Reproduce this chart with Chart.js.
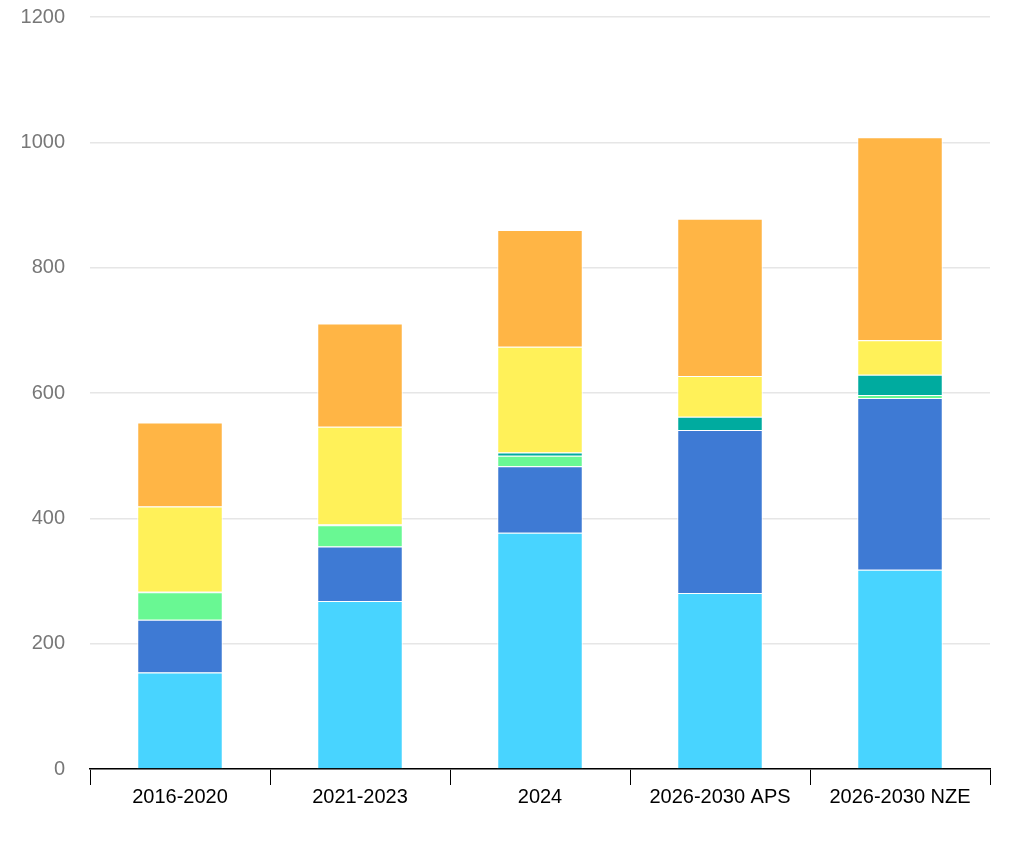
<!DOCTYPE html>
<html>
<head>
<meta charset="utf-8">
<script src="https://cdn.jsdelivr.net/npm/chart.js@4"></script>
<style>
  html, body { margin: 0; padding: 0; background: #fff; }
  #wrap { width: 1024px; height: 853px; }
</style>
</head>
<body>
<div id="wrap"><canvas id="mychart"></canvas></div>
<script>
// data

let categories = ['2016-2020', '2021-2023', '2024', '2026-2030 APS', '2026-2030 NZE'];

let cyanValues = [154, 268, 377, 281, 318];
let blueValues = [84, 87, 106, 260, 274];
let greenValues = [44, 34, 17, 0, 5];
let tealValues = [1, 1, 5, 21, 32];
let yellowValues = [136, 156, 169, 65, 55];
let orangeValues = [134, 165, 186, 251, 324];

let yTicks = [0, 200, 400, 600, 800, 1000, 1200];

// dom reference
let ctxWindow = document.getElementById('mychart');

function makeSet(label, data, color) {
  return {
    label: label,
    data: data,
    backgroundColor: color,
    borderColor: '#ffffff',
    borderWidth: 1,
    barPercentage: 0.475,
    categoryPercentage: 1
  };
}

let myObj = {
  type: 'bar',
  data: {
    labels: categories,
    datasets: [
      makeSet('Series 1', cyanValues, '#48d4ff'),
      makeSet('Series 2', blueValues, '#3e7ad4'),
      makeSet('Series 3', greenValues, '#69f893'),
      makeSet('Series 4', tealValues, '#00ab9f'),
      makeSet('Series 5', yellowValues, '#fff159'),
      makeSet('Series 6', orangeValues, '#ffb545')
    ]
  },
  options: {
    responsive: true,
    maintainAspectRatio: false,
    animation: false,
    layout: { padding: { top: 17, right: 34, bottom: 44, left: 0 } },
    plugins: {
      legend: { display: false },
      tooltip: { enabled: false }
    },
    scales: {
      x: {
        stacked: true,
        offset: true,
        grid: {
          display: true,
          offset: true,
          drawOnChartArea: false,
          drawTicks: true,
          tickLength: 16,
          color: '#000000'
        },
        border: { display: true, color: '#000000', width: 1.5 },
        ticks: {
          color: '#000000',
          font: { family: 'Liberation Sans, Arial', size: 20 },
          padding: 0,
          maxRotation: 0
        }
      },
      y: {
        stacked: true,
        min: 0,
        max: 1200,
        afterBuildTicks: function (axis) {
          axis.ticks = yTicks.map(function (v) { return { value: v }; });
        },
        afterFit: function (axis) {
          // fixed axis width so the plot starts where the original does
          axis.width = 90;
          axis.paddingTop = 0;
        },
        grid: { color: '#e6e6e6', lineWidth: 1.5, drawTicks: false },
        border: { display: false },
        ticks: {
          color: '#777777',
          font: { family: 'Liberation Sans, Arial', size: 20 },
          padding: 25,
          callback: function (v) { return String(v); }
        }
      }
    }
  }
};

const myChart = new Chart(ctxWindow, myObj);
</script>
</body>
</html>
